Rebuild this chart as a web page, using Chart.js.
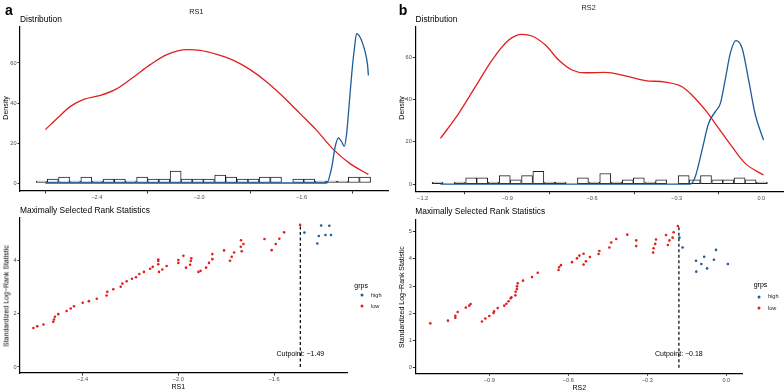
<!DOCTYPE html>
<html>
<head>
<meta charset="utf-8">
<script src="https://cdn.jsdelivr.net/npm/chart.js@4.4.1/dist/chart.umd.min.js"></script>
<style>
  html,body{margin:0;padding:0;background:#fff;}
  #wrap{position:relative;width:784px;height:392px;overflow:hidden;font-family:'Liberation Sans',Arial,Helvetica,sans-serif;color:#000;}
  canvas{position:absolute;left:0;top:0;}
  .t{position:absolute;white-space:nowrap;line-height:1;}
  .c{transform:translate(-50%,-50%);}
  .l{transform:translate(0,-50%);}
  .r{transform:translate(-50%,-50%) rotate(-90deg);}
  .dot{position:absolute;width:3px;height:3px;border-radius:50%;transform:translate(-50%,-50%);}
</style>
</head>
<body>
<div id="wrap">
  <canvas id="cA1" width="784" height="392"></canvas>
  <canvas id="cA2" width="784" height="392"></canvas>
  <canvas id="cB1" width="784" height="392"></canvas>
  <canvas id="cB2" width="784" height="392"></canvas>

  <div class="t c" style="left:8.8px;top:10.1px;font-size:14px;font-weight:bold;">a</div>
  <div class="t c" style="left:403px;top:10.1px;font-size:14px;font-weight:bold;">b</div>
  <div class="t c" style="left:196.3px;top:12.2px;font-size:7.3px;color:#1a1a1a;">RS1</div>
  <div class="t c" style="left:588.7px;top:7.5px;font-size:7.3px;color:#1a1a1a;">RS2</div>
  <div class="t l" style="left:20px;top:18.5px;font-size:8.4px;">Distribution</div>
  <div class="t l" style="left:415.5px;top:19px;font-size:8.4px;">Distribution</div>
  <div class="t l" style="left:20px;top:210px;font-size:8.4px;">Maximally Selected Rank Statistics</div>
  <div class="t l" style="left:415.3px;top:210.8px;font-size:8.4px;">Maximally Selected Rank Statistics</div>
  <div class="t r" style="left:5px;top:108.3px;font-size:7px;">Density</div>
  <div class="t r" style="left:400.8px;top:108.3px;font-size:7px;">Density</div>
  <div class="t r" style="left:5.5px;top:296px;font-size:7px;">Standardized Log−Rank Statistic</div>
  <div class="t r" style="left:400.5px;top:297px;font-size:7px;">Standardized Log−Rank Statistic</div>
  <div class="t c" style="left:178.3px;top:386px;font-size:7px;">RS1</div>
  <div class="t c" style="left:579.3px;top:387px;font-size:7px;">RS2</div>

  <div class="t l" style="left:354.3px;top:284.5px;font-size:7px;">grps</div>
  <div class="dot" style="left:361.7px;top:295.3px;background:#1F5C99;"></div>
  <div class="dot" style="left:361.7px;top:306.3px;background:#E0201F;"></div>
  <div class="t l" style="left:371px;top:295.7px;font-size:5.6px;color:#1a1a1a;">high</div>
  <div class="t l" style="left:371px;top:306.7px;font-size:5.6px;color:#1a1a1a;">low</div>

  <div class="t l" style="left:753.7px;top:284.3px;font-size:7px;">grps</div>
  <div class="dot" style="left:758.7px;top:296.7px;background:#1F5C99;"></div>
  <div class="dot" style="left:758.7px;top:308.3px;background:#E0201F;"></div>
  <div class="t l" style="left:768px;top:297.3px;font-size:5.6px;color:#1a1a1a;">high</div>
  <div class="t l" style="left:768px;top:309px;font-size:5.6px;color:#1a1a1a;">low</div>
</div>
<script>
// ---------------- DATA : panel a (RS1) ----------------
const histA_centers = [-2.615,-2.572,-2.528,-2.485,-2.441,-2.397,-2.354,-2.310,-2.267,-2.223,-2.180,-2.136,-2.092,-2.049,-2.005,-1.962,-1.918,-1.875,-1.831,-1.788,-1.744,-1.700,-1.657,-1.613,-1.570,-1.526,-1.483,-1.439,-1.396,-1.352];
const histA_counts  = [1,2,3,1,3,1,2,2,1,3,2,2,6,2,2,2,4,3,2,2,3,3,0,2,2,1,1,1,3,3];
const lowDensA_x  = [-2.601,-2.549,-2.503,-2.451,-2.386,-2.321,-2.256,-2.191,-2.126,-2.048,-1.996,-1.931,-1.866,-1.801,-1.736,-1.671,-1.606,-1.541,-1.476,-1.411,-1.339];
const lowDensA_y  = [26.7,33,38.3,41.8,43.8,47.2,53,59.2,64.2,66.7,66.3,64.3,61.3,56.7,50.5,43,34.7,26.3,16.8,9.7,4.3];
const highDensA_x = [-2.601,-1.502,-1.482,-1.469,-1.456,-1.443,-1.433,-1.424,-1.417,-1.404,-1.393,-1.385,-1.372,-1.359,-1.350,-1.342,-1.339];
const highDensA_y = [0,0,8,18,22.5,20.5,18.3,24.7,34.7,54.7,68,74.7,73,68.8,64.7,58.8,53.8];
const rsLowA_x = [-2.606,-2.590,-2.564,-2.523,-2.520,-2.516,-2.502,-2.467,-2.450,-2.436,-2.400,-2.374,-2.341,-2.300,-2.297,-2.272,-2.241,-2.234,-2.216,-2.194,-2.177,-2.163,-2.144,-2.118,-2.107,-2.084,-2.084,-2.084,-2.081,-2.067,-2.049,-2.000,-2.000,-1.979,-1.968,-1.951,-1.948,-1.946,-1.916,-1.907,-1.884,-1.872,-1.858,-1.858,-1.809,-1.784,-1.777,-1.767,-1.739,-1.738,-1.735,-1.728,-1.640,-1.610,-1.593,-1.578,-1.558,-1.491];
const rsLowA_y = [1.47,1.53,1.60,1.70,1.79,1.89,1.99,2.11,2.20,2.29,2.42,2.48,2.57,2.69,2.83,2.93,3.02,3.14,3.23,3.32,3.38,3.50,3.58,3.70,3.77,3.87,3.99,4.05,3.58,3.67,3.80,4.03,3.92,4.19,3.74,3.85,3.99,4.09,3.58,3.62,3.74,3.92,4.06,4.25,4.39,4.00,4.15,4.31,4.53,4.77,4.36,4.63,4.82,4.40,4.63,4.83,5.07,5.35];
const rsHighA_x = [-1.473,-1.419,-1.413,-1.403,-1.385,-1.369,-1.362];
const rsHighA_y = [5.06,4.65,4.93,5.33,4.97,5.32,4.97];
const cutA = -1.49, cutA_max = 5.35, cutA_label = 'Cutpoint: −1.49';
const xTicksA1 = [-2.4,-2.0,-1.6], xLabelsA1 = ['−2.4','−2.0','−1.6'];
const yTicksA1 = [0,20,40,60],    yLabelsA1 = ['0','20','40','60'];
const xTicksA2 = [-2.4,-2.0,-1.6], xLabelsA2 = ['−2.4','−2.0','−1.6'];
const yTicksA2 = [0,2,4],          yLabelsA2 = ['0','2','4'];

// ---------------- DATA : panel b (RS2) ----------------
const histB_centers = [-1.147,-1.107,-1.068,-1.028,-0.989,-0.949,-0.909,-0.870,-0.830,-0.790,-0.751,-0.711,-0.671,-0.632,-0.592,-0.553,-0.513,-0.473,-0.434,-0.394,-0.355,-0.315,-0.275,-0.236,-0.196,-0.156,-0.117,-0.077,-0.038,0.002];
const histB_counts  = [1,0,1,3,3,1,4,2,4,6,1,1,0,3,1,5,1,2,3,1,2,0,4,2,4,2,2,3,2,1];
const lowDensB_x  = [-1.137,-1.072,-1.013,-0.954,-0.895,-0.848,-0.813,-0.765,-0.718,-0.671,-0.624,-0.553,-0.482,-0.411,-0.340,-0.281,-0.246,-0.198,-0.151,-0.104,-0.057,0.008];
const lowDensB_y  = [21.6,33.5,46.1,58.7,68.2,70.9,70.1,65.8,58.7,54,52.7,52.9,51.2,49,48.3,46.1,42.2,35,26.4,17.7,9.8,4.3];
const highDensB_x = [-1.137,-0.252,-0.234,-0.210,-0.187,-0.163,-0.145,-0.128,-0.110,-0.090,-0.068,-0.045,-0.021,0.008];
const highDensB_y = [0,0,3.5,16.1,28.7,34.3,38.2,49.3,61.9,67.9,64.3,49.3,32.7,20.8];
const rsLowB_x = [-1.124,-1.057,-1.029,-1.029,-1.020,-0.989,-0.976,-0.971,-0.928,-0.915,-0.900,-0.884,-0.882,-0.868,-0.843,-0.835,-0.827,-0.819,-0.816,-0.801,-0.800,-0.795,-0.795,-0.792,-0.772,-0.738,-0.716,-0.637,-0.635,-0.628,-0.586,-0.567,-0.558,-0.542,-0.542,-0.533,-0.518,-0.485,-0.482,-0.444,-0.437,-0.418,-0.376,-0.342,-0.342,-0.278,-0.276,-0.270,-0.267,-0.229,-0.222,-0.216,-0.204,-0.200,-0.184];
const rsLowB_y = [1.63,1.73,1.84,1.91,2.05,2.21,2.28,2.34,1.70,1.81,1.90,2.01,2.07,2.19,2.28,2.35,2.44,2.55,2.59,2.66,2.79,2.89,2.99,3.10,3.20,3.33,3.49,3.59,3.69,3.77,3.88,4.02,4.12,4.19,3.79,3.91,4.07,4.18,4.29,4.42,4.60,4.73,4.89,4.47,4.68,4.23,4.39,4.55,4.71,4.88,4.51,4.68,4.78,4.98,5.21];
const rsHighB_x = [-0.178,-0.166,-0.115,-0.114,-0.095,-0.084,-0.073,-0.047,-0.039,0.006];
const rsHighB_y = [4.78,4.42,3.93,3.53,3.81,4.08,3.65,3.97,4.33,3.81];
const cutB = -0.18, cutB_max = 5.21, cutB_label = 'Cutpoint: −0.18';
const xTicksB1 = [-1.2,-0.9,-0.6,-0.3,0.0], xLabelsB1 = ['−1.2','−0.9','−0.6','−0.3','0.0'];
const yTicksB1 = [0,20,40,60],              yLabelsB1 = ['0','20','40','60'];
const xTicksB2 = [-0.9,-0.6,-0.3,0.0],      xLabelsB2 = ['−0.9','−0.6','−0.3','0.0'];
const yTicksB2 = [0,1,2,3,4,5],             yLabelsB2 = ['0','1','2','3','4','5'];

// ---------------- STYLE ----------------
const FONT = "'Liberation Sans', Arial, Helvetica, sans-serif";
const RED = '#E0201F', BLUE = '#1F5C99';
Chart.defaults.animation = false;
Chart.defaults.font.family = FONT;

const zip = (xs, ys) => xs.map((x, i) => ({x, y: ys[i]}));

function scaleCfg(axis, min, max, vals, labels) {
  return {
    type: 'linear', min, max, offset: false,
    afterBuildTicks: s => { s.ticks = vals.map(v => ({value: v})); },
    afterFit: s => {
      if (axis === 'x') { s.height = 15; s.paddingLeft = 0; s.paddingRight = 0; }
      else { s.width = 15; s.paddingTop = 0; s.paddingBottom = 0; }
    },
    ticks: { autoSkip: false, maxRotation: 0, padding: 1, color: '#4D4D4D',
             font: {family: FONT, size: 5.6}, callback: (v, i) => labels[i] },
    grid: { display: true, drawOnChartArea: false, drawTicks: true, tickLength: 2.5, color: '#333', lineWidth: 1 },
    border: { display: true, color: '#000', width: 1.2 }
  };
}

const cutLabelPlugin = {
  id: 'cutLabel',
  afterDatasetsDraw(chart, args, opts) {
    if (!opts || opts.text === undefined) return;
    const {ctx, scales} = chart;
    ctx.save();
    ctx.font = '7px ' + FONT;
    ctx.fillStyle = '#000';
    ctx.textAlign = 'center';
    ctx.textBaseline = 'middle';
    ctx.fillText(opts.text, scales.x.getPixelForValue(opts.value), scales.y.getPixelForValue(opts.yPos));
    ctx.restore();
  }
};

function densityChart(id, pad, xr, yr, xt, xl, yt, yl, hc, hn, lx, ly, hx, hy) {
  new Chart(document.getElementById(id), {
    type: 'bar',
    data: { datasets: [
      { type: 'line', data: zip(hx, hy), borderColor: BLUE, borderWidth: 1.3, pointRadius: 0,
        cubicInterpolationMode: 'monotone', order: 0 },
      { type: 'line', data: zip(lx, ly), borderColor: RED, borderWidth: 1.3, pointRadius: 0,
        cubicInterpolationMode: 'monotone', order: 1 },
      { type: 'bar', data: zip(hc, hn), backgroundColor: '#fff', borderColor: '#222', borderWidth: 1,
        borderSkipped: false, barPercentage: 1, categoryPercentage: 1, grouped: false, order: 2 }
    ]},
    options: {
      responsive: false, devicePixelRatio: 1, animation: false,
      layout: { padding: pad },
      plugins: { legend: {display: false}, tooltip: {enabled: false}, title: {display: false} },
      scales: { x: scaleCfg('x', xr[0], xr[1], xt, xl), y: scaleCfg('y', yr[0], yr[1], yt, yl) }
    }
  });
}

function rankChart(id, pad, xr, yr, xt, xl, yt, yl, lx, ly, hx, hy, cut, cutMax, cutText) {
  new Chart(document.getElementById(id), {
    type: 'scatter',
    data: { datasets: [
      { type: 'line', data: [{x: cut, y: 0}, {x: cut, y: cutMax}], borderColor: '#111', borderWidth: 1.3,
        borderDash: [3, 2.5], pointRadius: 0, order: 2 },
      { data: zip(lx, ly), backgroundColor: RED, pointRadius: 1.3, pointBorderWidth: 0, order: 1 },
      { data: zip(hx, hy), backgroundColor: BLUE, pointRadius: 1.3, pointBorderWidth: 0, order: 0 }
    ]},
    options: {
      responsive: false, devicePixelRatio: 1, animation: false,
      layout: { padding: pad },
      plugins: { legend: {display: false}, tooltip: {enabled: false},
                 cutLabel: { value: cut, yPos: 0.5, text: cutText } },
      scales: { x: scaleCfg('x', xr[0], xr[1], xt, xl), y: scaleCfg('y', yr[0], yr[1], yt, yl) }
    },
    plugins: [cutLabelPlugin]
  });
}

densityChart('cA1', {left: 5, top: 27, right: 396, bottom: 186}, [-2.70, -1.2624], [-4, 78],
  xTicksA1, xLabelsA1, yTicksA1, yLabelsA1, histA_centers, histA_counts, lowDensA_x, lowDensA_y, highDensA_x, highDensA_y);
rankChart('cA2', {left: 5, top: 218, right: 437, bottom: 4}, [-2.662, -1.295], [-0.226, 5.61],
  xTicksA2, xLabelsA2, yTicksA2, yLabelsA2, rsLowA_x, rsLowA_y, rsHighA_x, rsHighA_y, cutA, cutA_max, cutA_label);
densityChart('cB1', {left: 400.3, top: 26.7, right: 0, bottom: 185.3}, [-1.226, 0.0804], [-3.6, 74.5],
  xTicksB1, xLabelsB1, yTicksB1, yLabelsB1, histB_centers, histB_counts, lowDensB_x, lowDensB_y, highDensB_x, highDensB_y);
rankChart('cB2', {left: 400.3, top: 219.3, right: 42, bottom: 3.7}, [-1.181, 0.0596], [-0.206, 5.455],
  xTicksB2, xLabelsB2, yTicksB2, yLabelsB2, rsLowB_x, rsLowB_y, rsHighB_x, rsHighB_y, cutB, cutB_max, cutB_label);
</script>
</body>
</html>
